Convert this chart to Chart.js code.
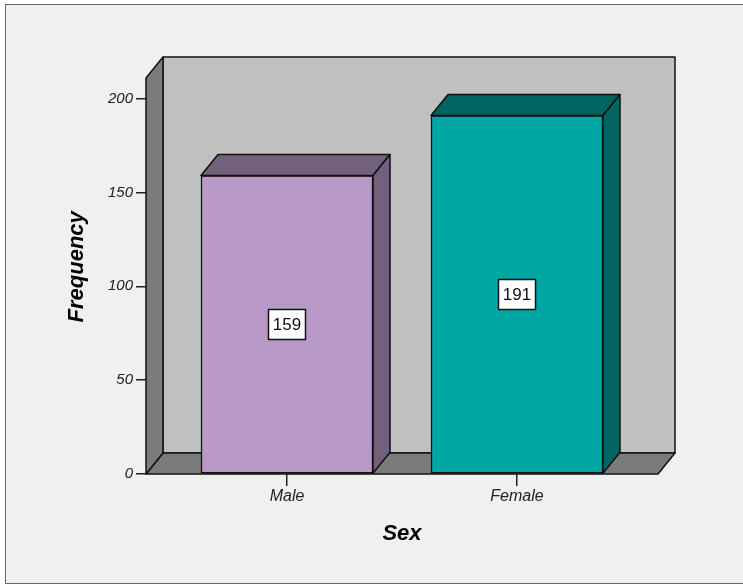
<!DOCTYPE html>
<html>
<head>
<meta charset="utf-8">
<script src="https://cdn.jsdelivr.net/npm/chart.js@4.4.1/dist/chart.umd.min.js"></script>
<style>
html, body { margin:0; padding:0; background:#fff; }
#wrap { position:relative; width:743px; height:585px; }
</style>
</head>
<body>
<div id="wrap"><canvas id="chart" width="743" height="585"></canvas></div>
<script>
var categories = ["Male", "Female"];
var frequencies = [159, 191];
var yTicks = [0, 50, 100, 150, 200];

var frontColors = ["#b899c8", "#00a6a3"];
var shadeColors = ["#73607d", "#006560"];

// depth of the fake 3d walls / bars
var DX = 17, DY = 21;
var FONT = "'Liberation Sans', Arial, sans-serif";

function poly(ctx, pts, fill) {
	ctx.beginPath();
	ctx.moveTo(pts[0][0], pts[0][1]);
	for (var i = 1; i < pts.length; i++) ctx.lineTo(pts[i][0], pts[i][1]);
	ctx.closePath();
	ctx.fillStyle = fill;
	ctx.fill();
	ctx.stroke();
}

var frame3d = {
	id: "frame3d",
	beforeDraw: function(chart) {
		var ctx = chart.ctx;
		ctx.save();
		ctx.fillStyle = "#fff";
		ctx.fillRect(0, 0, chart.width, chart.height);
		ctx.fillStyle = "#f0f0f0";
		ctx.fillRect(5.5, 4.5, chart.width, 579);
		ctx.strokeStyle = "#666";
		ctx.lineWidth = 1;
		ctx.strokeRect(5.5, 4.5, chart.width, 579);
		ctx.restore();
	},
	beforeDatasetsDraw: function(chart) {
		var a = chart.chartArea, ctx = chart.ctx;
		var l = a.left, r = a.right, t = a.top, b = a.bottom;
		ctx.save();
		ctx.lineWidth = 1.5;
		ctx.strokeStyle = "#111";
		ctx.lineJoin = "round";
		// back wall, floor, left wall
		poly(ctx, [[l+DX, t-DY], [r+DX, t-DY], [r+DX, b-DY], [l+DX, b-DY]], "#c0c0c0");
		poly(ctx, [[l, b], [r, b], [r+DX, b-DY], [l+DX, b-DY]], "#7b7b7b");
		poly(ctx, [[l, t], [l+DX, t-DY], [l+DX, b-DY], [l, b]], "#7b7b7b");
		ctx.restore();
	},
	afterDatasetsDraw: function(chart) {
		var ctx = chart.ctx;
		var meta = chart.getDatasetMeta(0);
		ctx.save();
		ctx.lineWidth = 1.5;
		ctx.strokeStyle = "#111";
		ctx.lineJoin = "round";
		meta.data.forEach(function(bar, i) {
			var p = bar.getProps(["x", "y", "base", "width"], true);
			var left = p.x - p.width / 2, right = p.x + p.width / 2;
			// top and side faces
			poly(ctx, [[left, p.y], [left+DX, p.y-DY], [right+DX, p.y-DY], [right, p.y]], shadeColors[i]);
			poly(ctx, [[right, p.y], [right+DX, p.y-DY], [right+DX, p.base-DY], [right, p.base]], shadeColors[i]);

			// value label box
			var cy = (p.y + p.base) / 2;
			ctx.fillStyle = "#fff";
			ctx.fillRect(p.x - 18.5, cy - 15, 37, 30);
			ctx.strokeRect(p.x - 18.5, cy - 15, 37, 30);
			ctx.fillStyle = "#111";
			ctx.font = "17px " + FONT;
			ctx.textAlign = "center";
			ctx.textBaseline = "middle";
			ctx.fillText(String(frequencies[i]), p.x, cy + 1);
		});
		ctx.restore();
	}
};

var ctx = document.getElementById("chart").getContext("2d");
var chart = new Chart(ctx, {
	type: "bar",
	data: {
		datasets: [{
			data: frequencies.map(function(v, i) { return {x: i, y: v}; }),
			backgroundColor: frontColors,
			borderColor: "#111",
			borderWidth: 1.5,
			borderSkipped: false,
			barThickness: 172
		}]
	},
	options: {
		responsive: false,
		devicePixelRatio: 1,
		animation: false,
		layout: { padding: { top: 78, right: 85, left: 0, bottom: 0 } },
		plugins: {
			legend: { display: false },
			tooltip: { enabled: false }
		},
		scales: {
			x: {
				type: "linear",
				offset: false,
				min: -0.613,
				max: 1.613,
				afterBuildTicks: function(scale) {
					scale.ticks = categories.map(function(c, i) { return {value: i}; });
				},
				afterFit: function(scale) { scale.height = 111; },
				grid: { offset: false, drawOnChartArea: false, tickLength: 12, color: "#222", lineWidth: 1.5 },
				border: { display: false },
				ticks: {
					includeBounds: false,
					maxRotation: 0,
					padding: 1,
					color: "#222",
					font: { family: FONT, size: 16, style: "italic" },
					callback: function(v) { return categories[v]; }
				},
				title: {
					display: true,
					text: "Sex",
					color: "#000",
					font: { family: FONT, size: 22, style: "italic", weight: "bold" },
					padding: { top: 0, bottom: 38 }
				}
			},
			y: {
				min: 0,
				max: 211,
				afterBuildTicks: function(scale) {
					scale.ticks = yTicks.map(function(v) { return {value: v}; });
				},
				afterFit: function(scale) { scale.width = 146; },
				grid: { drawOnChartArea: false, tickLength: 10, color: "#222", lineWidth: 1.5 },
				border: { display: false },
				ticks: {
					includeBounds: false,
					padding: 3,
					color: "#222",
					font: { family: FONT, size: 15, style: "italic" }
				},
				title: {
					display: true,
					// leading spaces nudge the centred title a little up, like the original
					text: "   Frequency",
					color: "#000",
					font: { family: FONT, size: 22, style: "italic", weight: "bold" },
					padding: { top: 64, bottom: 0 }
				}
			}
		}
	},
	plugins: [frame3d]
});
</script>
</body>
</html>
